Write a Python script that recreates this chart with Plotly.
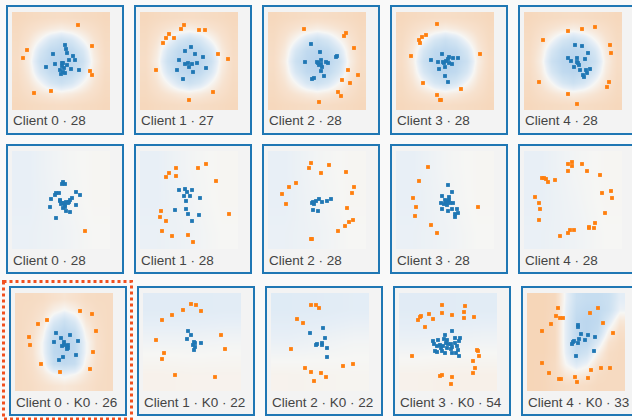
import plotly.graph_objects as go

W, H = 632, 420

CAPTIONS = [
    ["Client 0 · 28", "Client 1 · 27", "Client 2 · 28", "Client 3 · 28", "Client 4 · 28"],
    ["Client 0 · 28", "Client 1 · 28", "Client 2 · 28", "Client 3 · 28", "Client 4 · 28"],
    ["Client 0 · K0 · 26", "Client 1 · K0 · 22", "Client 2 · K0 · 22", "Client 3 · K0 · 54", "Client 4 · K0 · 33"],
]
SELECTED = (2, 0)

# feature space: u,v in [0,98], v measured downward
P11_ORANGE = [(66,13),(80,34),(15,38),(11,46),(78,59),(80,63),(39,79),(22,81)]
P11_BLUE = [(53,33),(54,37),(55,41),(41,42),(61,44),(63,48),(57,48),(50,51),(51,51),(43,52),(34,55),(50,54),(52,56),(59,57),(67,58),(51,60),(53,61),(49,62),(48,58),(55,53)]
P12_ORANGE = [(44,13),(41,17),(29,22),(26,26),(34,26),(23,31),(59,18),(65,18),(78,42),(88,47),(16,58),(73,80),(49,88)]
P12_BLUE = [(51,35),(45,39),(55,42),(63,45),(39,48),(48,51),(52,52),(57,51),(45,52),(66,56),(37,58),(53,60),(43,67),(49,55)]
P13_ORANGE = [(36,17),(78,21),(76,24),(86,36),(80,58),(90,63),(74,68),(82,71),(70,80),(73,84),(51,90)]
P13_BLUE = [(43,32),(52,40),(68,45),(69,44),(37,50),(49,50),(53,48),(58,50),(60,51),(51,53),(53,52),(53,59),(56,64),(44,67),(46,66),(50,51),(54,55)]
P14_ORANGE = [(41,12),(30,23),(26,25),(23,28),(24,31),(15,44),(84,42),(27,71),(65,77),(41,83),(44,88),(45,88)]
P14_BLUE = [(46,42),(53,45),(35,48),(42,50),(48,51),(50,49),(52,47),(57,46),(62,46),(56,52),(43,57),(49,55),(49,64),(52,70),(47,50),(53,51)]
P15_ORANGE = [(19,28),(44,19),(58,17),(71,15),(86,33),(87,41),(15,70),(85,70),(83,75),(44,82),(53,92)]
P15_BLUE = [(51,33),(58,34),(64,41),(44,46),(47,49),(53,46),(54,51),(55,53),(61,47),(50,55),(56,58),(62,58),(66,57),(63,61),(60,65),(59,63),(53,50)]

P21_ORANGE = [(73,80)]
P21_BLUE = [(51,31),(53,33),(50,33),(64,41),(68,44),(44,42),(47,42),(43,44),(60,47),(39,48),(48,49),(50,52),(52,52),(54,51),(57,51),(49,53),(53,54),(56,52),(38,56),(64,54),(53,56),(54,60),(58,61),(44,67),(48,50),(51,57),(58,49)]
P22_ORANGE = [(36,17),(29,22),(26,26),(36,25),(58,17),(66,13),(76,30),(89,63),(21,60),(20,66),(26,70),(22,80),(32,85),(48,84),(53,91)]
P22_BLUE = [(39,39),(45,38),(52,39),(44,45),(50,45),(60,47),(46,50),(35,59),(46,58),(48,63),(59,64),(52,70),(47,41)]
P23_ORANGE = [(43,12),(41,17),(61,14),(53,22),(78,21),(28,32),(21,36),(14,43),(18,53),(86,36),(84,42),(79,57),(85,69),(81,71),(77,75),(70,80),(43,88),(44,88)]
P23_BLUE = [(44,52),(46,53),(45,51),(48,50),(51,48),(54,51),(59,50),(63,48),(45,59),(50,60)]
P24_ORANGE = [(32,16),(23,30),(17,47),(20,56),(19,65),(35,74),(41,82),(82,56)]
P24_BLUE = [(52,34),(56,41),(46,45),(53,46),(49,49),(52,50),(54,52),(57,52),(45,52),(48,53),(50,52),(53,49),(46,58),(52,60),(56,58),(61,58),(62,62),(59,63),(59,66),(51,54)]
P25_ORANGE = [(44,13),(48,11),(48,15),(58,13),(44,20),(63,20),(76,24),(20,27),(22,28),(24,31),(31,29),(11,46),(15,52),(16,58),(15,69),(78,42),(87,40),(88,47),(81,62),(71,72),(70,77),(65,76),(65,77),(50,79),(46,79),(44,82),(36,85),(18,27)]
P25_BLUE = []

P31_ORANGE = [(65,18),(77,21),(23,31),(32,27),(81,38),(14,44),(15,52),(78,59),(26,71),(75,76),(45,79)]
P31_BLUE = [(41,40),(55,42),(46,45),(49,49),(39,49),(63,48),(53,52),(52,53),(47,53),(53,55),(52,56),(61,62),(48,64),(44,67),(49,52)]
P32_ORANGE = [(48,11),(53,12),(40,17),(58,18),(29,22),(19,27),(78,42),(13,47),(82,56),(21,60),(19,66),(32,82),(72,84)]
P32_BLUE = [(45,38),(48,42),(44,46),(51,49),(52,50),(58,50),(50,52),(52,54),(51,57)]
P33_ORANGE = [(40,12),(45,12),(48,15),(26,26),(32,30),(20,56),(34,75),(40,79),(50,80),(55,84),(43,88),(72,73),(82,71)]
P33_BLUE = [(52,35),(39,40),(54,45),(46,51),(51,50),(51,52),(45,52),(56,55),(56,64)]
P34_ORANGE = [(43,12),(66,13),(43,20),(53,22),(65,19),(65,25),(75,24),(30,21),(22,23),(21,24),(19,27),(34,26),(26,34),(13,63),(78,57),(79,58),(80,63),(74,68),(76,75),(74,80),(43,82),(41,83),(53,84),(52,91)]
P34_BLUE = [(53,38),(46,42),(56,45),(61,45),(34,48),(39,47),(45,46),(47,50),(49,51),(52,51),(56,50),(60,48),(38,53),(41,52),(44,53),(48,55),(53,54),(58,53),(36,58),(38,59),(43,58),(46,60),(52,56),(53,60),(59,57),(60,63),(42,55),(48,47),(35,51),(57,60)]
P35_ORANGE = [(31,15),(71,15),(63,20),(29,23),(33,25),(36,25),(24,31),(76,30),(15,38),(86,40),(15,70),(22,80),(32,86),(34,86),(48,84),(50,89),(61,85),(64,77),(74,75),(83,75)]
P35_BLUE = [(51,32),(51,34),(54,41),(61,42),(68,44),(52,46),(58,47),(51,50),(46,49),(45,51),(67,58),(49,63),(47,48)]

# background decision values (0 = orange class, 10 = blue class)
BG_ROW1 = [
    [1.5,1.8,2.0,2.2,2.3,2.2,2.0,1.8,1.5],
    [1.8,2.5,3.2,3.8,4.2,3.8,3.2,2.5,1.8],
    [2.0,3.2,5.0,7.0,8.0,7.0,5.0,3.2,2.0],
    [2.2,3.8,7.0,9.0,9.5,9.0,7.0,3.8,2.2],
    [2.3,4.2,8.0,9.5,10.,9.5,8.0,4.2,2.3],
    [2.2,3.8,7.0,9.0,9.5,9.0,7.0,3.8,2.2],
    [2.0,3.2,5.0,7.0,8.0,7.0,5.0,3.2,2.0],
    [1.8,2.5,3.2,3.8,4.2,3.8,3.2,2.5,1.8],
    [1.5,1.8,2.0,2.2,2.3,2.2,2.0,1.8,1.5],
]
BG_ROW2 = [
    [5.7,5.2,4.9],
    [5.7,5.3,4.9],
    [5.6,5.4,5.0],
]
BG_R3C1 = [
    [2.0,2.0,2.2,2.8,3.2,2.8,2.2,2.0,2.0],
    [2.0,2.2,2.8,4.2,5.0,4.2,2.8,2.2,2.0],
    [2.0,2.4,3.5,6.5,8.0,6.5,3.5,2.4,2.0],
    [2.0,2.6,4.5,8.5,9.5,8.5,4.5,2.6,2.0],
    [2.0,2.8,5.2,9.2,10.,9.2,5.2,2.8,2.0],
    [2.0,2.8,5.2,9.2,10.,9.2,5.2,2.8,2.0],
    [2.0,2.6,4.5,8.5,9.0,8.5,4.5,2.6,2.0],
    [2.0,2.4,3.5,4.8,5.5,4.8,3.5,2.4,2.0],
    [2.0,2.2,2.8,3.2,3.5,3.2,2.8,2.2,2.0],
]
BG_R3C2 = [
    [6.2,6.2,6.1],
    [5.3,5.3,5.2],
    [4.5,4.6,4.6],
]
BG_R3C3 = [
    [6.3,6.2,6.0],
    [5.6,5.4,5.2],
    [4.6,4.7,4.8],
]
BG_R3C4 = [
    [6.2,6.2,6.1],
    [5.5,5.4,5.3],
    [4.5,4.4,4.4],
]
BG_R3C5 = [
    [1.2,1.2,1.6,5.5,8.0,8.5,8.5,8.0,6.0],
    [1.2,1.2,1.6,5.8,8.5,9.0,9.0,8.0,5.5],
    [1.2,1.2,1.8,6.0,9.0,9.5,9.0,6.5,3.5],
    [1.2,1.2,1.8,6.0,9.0,9.5,8.5,4.5,2.5],
    [1.2,1.2,1.8,6.0,9.0,9.0,6.5,3.0,2.0],
    [1.2,1.2,1.8,5.8,8.5,7.5,4.5,2.2,1.8],
    [1.2,1.3,2.0,5.0,6.5,5.5,3.0,2.0,1.8],
    [1.2,1.3,2.0,3.5,4.0,3.5,2.2,1.8,1.8],
    [1.2,1.3,1.8,2.2,2.4,2.2,1.8,1.8,1.8],
]

PANELS = [
    [(BG_ROW1, P11_ORANGE, P11_BLUE), (BG_ROW1, P12_ORANGE, P12_BLUE), (BG_ROW1, P13_ORANGE, P13_BLUE), (BG_ROW1, P14_ORANGE, P14_BLUE), (BG_ROW1, P15_ORANGE, P15_BLUE)],
    [(BG_ROW2, P21_ORANGE, P21_BLUE), (BG_ROW2, P22_ORANGE, P22_BLUE), (BG_ROW2, P23_ORANGE, P23_BLUE), (BG_ROW2, P24_ORANGE, P24_BLUE), (BG_ROW2, P25_ORANGE, P25_BLUE)],
    [(BG_R3C1, P31_ORANGE, P31_BLUE), (BG_R3C2, P32_ORANGE, P32_BLUE), (BG_R3C3, P33_ORANGE, P33_BLUE), (BG_R3C4, P34_ORANGE, P34_BLUE), (BG_R3C5, P35_ORANGE, P35_BLUE)],
]

COLORSCALE = [
    [0.0, "#f4cda6"], [0.15, "#f6d8bd"], [0.3, "#f7e2cf"], [0.42, "#f7eee5"],
    [0.5, "#f6f6f4"], [0.58, "#e6eef6"], [0.7, "#d6e6f3"], [0.85, "#c6ddf0"], [1.0, "#b6d3ed"],
]
BLUE, ORANGE = "#1f77b4", "#ff7f0e"
BORDER = "#1f77b4"
PANEL_BG = "#f3f3f3"
PAGE_BG = "#f9f9f9"
SEL_COLOR = "#f2501e"

# layout geometry (pixels)
ROW_TOP = [5, 144, 286]
ROW_XSHIFT = [0, 0, 3]
COL_PITCH = 128
PANEL_W, PANEL_H = 118, 130
HM_OFF_X, HM_OFF_Y, HM_SIZE = 6, 7, 98
EXTENT = 98.0


def px_x(p):
    return p / W


def px_y(p):
    return 1 - p / H


fig = go.Figure()
shapes = []
annotations = []
layout_axes = {}

for r in range(3):
    for c in range(5):
        k = r * 5 + c + 1
        left = 6 + ROW_XSHIFT[r] + COL_PITCH * c
        top = ROW_TOP[r]
        # panel box
        shapes.append(dict(type="rect", xref="paper", yref="paper", layer="below",
                           x0=px_x(left + 1), x1=px_x(left + PANEL_W - 1),
                           y0=px_y(top + 1), y1=px_y(top + PANEL_H - 1),
                           fillcolor=PANEL_BG, line=dict(color=BORDER, width=2)))
        if (r, c) == SELECTED:
            shapes.append(dict(type="rect", xref="paper", yref="paper", layer="above",
                               x0=px_x(left - 5.5), x1=px_x(left + PANEL_W + 4.5),
                               y0=px_y(top - 4.5), y1=px_y(top + PANEL_H + 3),
                               fillcolor="rgba(0,0,0,0)",
                               line=dict(color=SEL_COLOR, width=3, dash="dot")))
        hl, ht = left + HM_OFF_X, top + HM_OFF_Y
        xa = "xaxis" if k == 1 else f"xaxis{k}"
        ya = "yaxis" if k == 1 else f"yaxis{k}"
        xr = "x" if k == 1 else f"x{k}"
        yr = "y" if k == 1 else f"y{k}"
        layout_axes[xa] = dict(domain=[px_x(hl), min(px_x(hl + HM_SIZE), 1.0)], range=[0, EXTENT],
                               visible=False, anchor=yr, fixedrange=True)
        layout_axes[ya] = dict(domain=[px_y(ht + HM_SIZE), px_y(ht)], range=[EXTENT, 0],
                               visible=False, anchor=xr, fixedrange=True)
        bg, orange, blue = PANELS[r][c]
        n = len(bg)
        d = EXTENT / n
        fig.add_trace(go.Heatmap(z=bg, x0=d / 2, dx=d, y0=d / 2, dy=d, zmin=0, zmax=10,
                                 colorscale=COLORSCALE, showscale=False, zsmooth="best",
                                 hoverinfo="skip", xaxis=xr, yaxis=yr))
        for pts, col in ((orange, ORANGE), (blue, BLUE)):
            if pts:
                fig.add_trace(go.Scatter(x=[p[0] for p in pts], y=[p[1] for p in pts],
                                         mode="markers", hoverinfo="skip",
                                         marker=dict(symbol="square", size=3.8, color=col, line=dict(width=0)),
                                         xaxis=xr, yaxis=yr, showlegend=False))
        annotations.append(dict(xref="paper", yref="paper", x=px_x(hl - 1), y=px_y(top + 116),
                                xanchor="left", yanchor="middle", showarrow=False,
                                text=CAPTIONS[r][c],
                                font=dict(family="Helvetica, Arial, Liberation Sans, sans-serif", size=13.5, color="#444")))

fig.update_layout(width=W, height=H, margin=dict(l=0, r=0, t=0, b=0, pad=0),
                  paper_bgcolor=PAGE_BG, plot_bgcolor="rgba(0,0,0,0)",
                  showlegend=False, shapes=shapes, annotations=annotations, **layout_axes)

fig.write_html("out.html", config={"displayModeBar": False, "staticPlot": True},
               post_script="document.body.style.margin='0';document.body.style.overflow='hidden';")
